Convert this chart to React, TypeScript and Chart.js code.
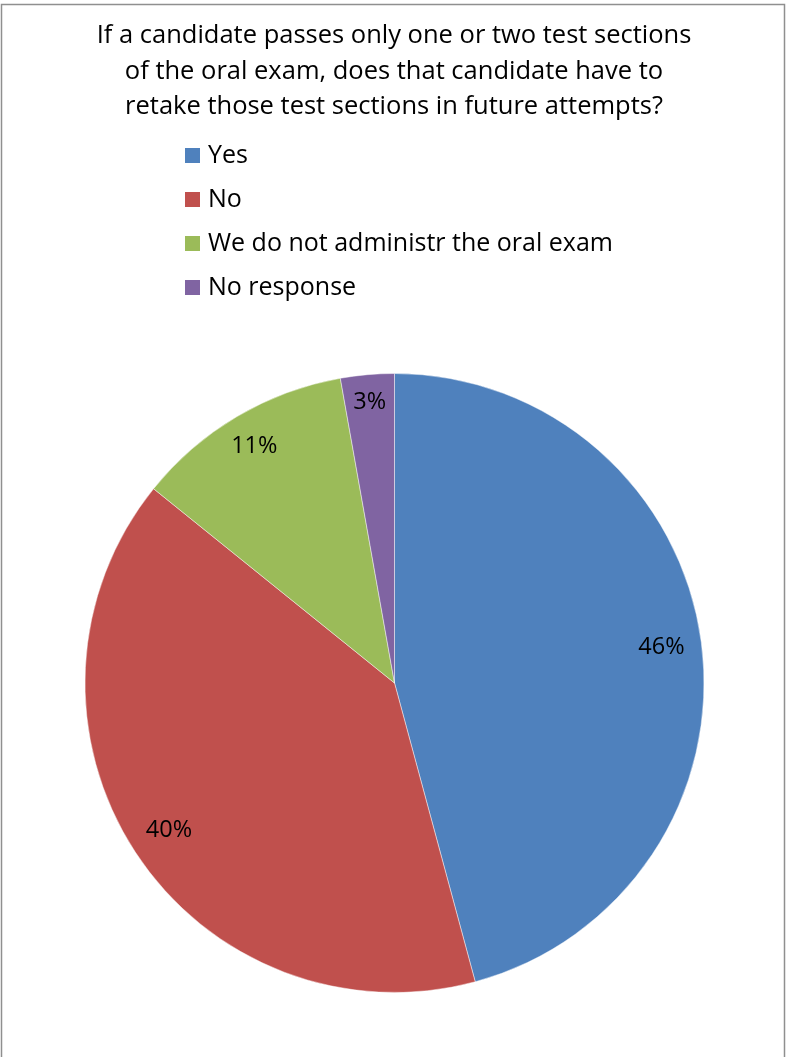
import React, { useEffect, useRef } from "react";
import { Chart, registerables } from "chart.js";

Chart.register(...registerables);

const titleLines = [
  "If a candidate passes only one or two test sections",
  "of the oral exam, does that candidate have to",
  "retake those test sections in future attempts?",
];
const categories = ["Yes", "No", "We do not administr the oral exam", "No response"];
const values = [45.8, 40.0, 11.4, 2.8];
const colors = ["#4F81BD", "#C0504D", "#9BBB59", "#8064A2"];

const FONT = '"Open Sans", sans-serif';

const decorPlugin = {
  id: "decor",
  beforeDraw(chart: any) {
    const ctx = chart.ctx;
    ctx.save();
    ctx.fillStyle = "#ffffff";
    ctx.fillRect(0, 0, chart.width, chart.height);
    ctx.strokeStyle = "#8f8f8f";
    ctx.lineWidth = 1.5;
    ctx.strokeRect(1.5, 4.5, 783, 1100);
    ctx.restore();
  },
  afterDraw(chart: any) {
    const ctx = chart.ctx;
    ctx.save();
    // title
    ctx.fillStyle = "#000";
    ctx.textAlign = "center";
    ctx.textBaseline = "alphabetic";
    ctx.font = `25.5px ${FONT}`;
    titleLines.forEach((t, i) => ctx.fillText(t, 394, 43 + i * 35.5));
    // legend
    ctx.textAlign = "left";
    ctx.font = `25px ${FONT}`;
    const labels = chart.data.labels as string[];
    const bg = chart.data.datasets[0].backgroundColor as string[];
    labels.forEach((l, i) => {
      const base = 163 + i * 44;
      ctx.fillStyle = bg[i];
      ctx.fillRect(185, base - 15, 15, 15);
      ctx.fillStyle = "#000";
      ctx.fillText(l, 208, base);
    });
    // data labels
    const meta = chart.getDatasetMeta(0);
    const data = chart.data.datasets[0].data as number[];
    const total = data.reduce((a, b) => a + b, 0);
    ctx.textAlign = "center";
    ctx.textBaseline = "middle";
    ctx.font = `23.5px ${FONT}`;
    meta.data.forEach((arc: any, i: number) => {
      const p = arc.getProps(["x", "y", "startAngle", "endAngle", "outerRadius"], true);
      const mid = (p.startAngle + p.endAngle) / 2;
      const r = p.outerRadius * (i === 3 ? 0.91 : i === 2 ? 0.89 : 0.87);
      const x = p.x + Math.cos(mid) * r;
      const y = p.y + Math.sin(mid) * r;
      ctx.fillText(Math.round((data[i] / total) * 100) + "%", x, y);
    });
    ctx.restore();
  },
};

export default function App() {
  const ref = useRef<HTMLCanvasElement>(null);
  useEffect(() => {
    if (!ref.current) return;
    const chart = new Chart(ref.current, {
      type: "pie",
      data: {
        labels: categories,
        datasets: [
          {
            data: values,
            backgroundColor: colors,
            borderColor: "rgba(255,255,255,0.45)",
            borderWidth: 1,
          },
        ],
      },
      options: {
        animation: false,
        responsive: false,
        maintainAspectRatio: false,
        layout: { padding: { left: 84.5, right: 82.5, top: 373, bottom: 64 } },
        plugins: {
          legend: { display: false },
          title: { display: false },
          tooltip: { enabled: false },
        },
      },
      plugins: [decorPlugin],
    });
    return () => chart.destroy();
  }, []);
  return (
    <div style={{ position: "absolute", left: 0, top: 0, width: 787, height: 1057 }}>
      <canvas ref={ref} width={787} height={1057} style={{ display: "block" }} />
    </div>
  );
}
